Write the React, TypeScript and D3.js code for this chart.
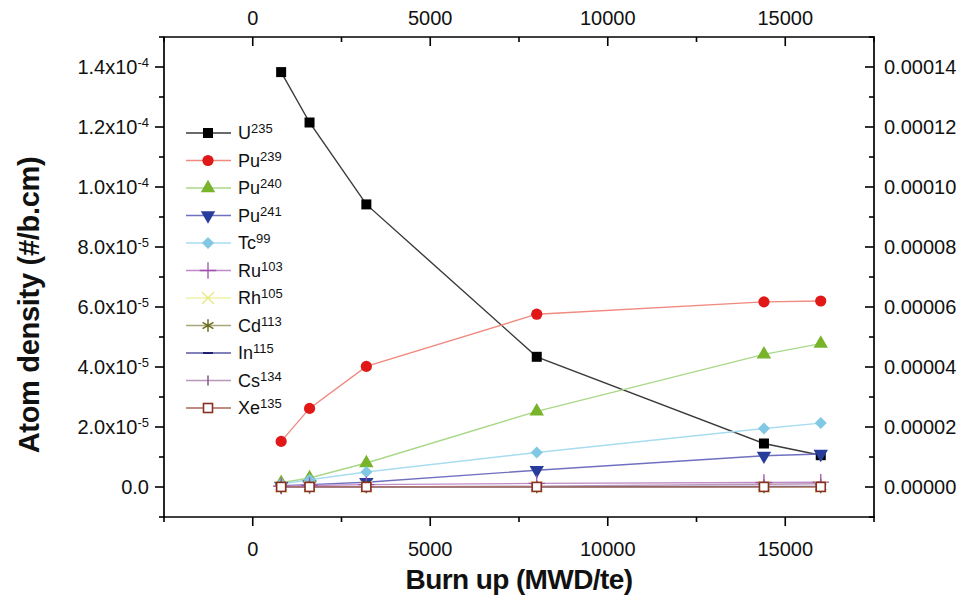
import React from "react";
import * as d3 from "d3";

const burnup = [800, 1600, 3200, 8000, 14400, 16000];
const u235 = [138.3e-6, 121.5e-6, 94.2e-6, 43.4e-6, 14.5e-6, 10.6e-6];
const pu239 = [15.2e-6, 26.2e-6, 40.2e-6, 57.6e-6, 61.7e-6, 62.0e-6];
const pu240 = [1.4e-6, 3.0e-6, 8.0e-6, 25.2e-6, 44.2e-6, 47.8e-6];
const pu241 = [0.4e-6, 0.8e-6, 1.6e-6, 5.6e-6, 10.4e-6, 11.0e-6];
const tc99 = [1.0e-6, 2.4e-6, 5.0e-6, 11.5e-6, 19.5e-6, 21.3e-6];
const ru103 = [0.3e-6, 0.5e-6, 0.8e-6, 1.2e-6, 1.5e-6, 1.6e-6];
const rh105 = [0.05e-6, 0.06e-6, 0.07e-6, 0.08e-6, 0.08e-6, 0.08e-6];
const cd113 = [0.01e-6, 0.01e-6, 0.02e-6, 0.03e-6, 0.04e-6, 0.04e-6];
const in115 = [0.01e-6, 0.02e-6, 0.04e-6, 0.1e-6, 0.18e-6, 0.2e-6];
const cs134 = [0.0, 0.01e-6, 0.05e-6, 0.3e-6, 0.9e-6, 1.1e-6];
const xe135 = [0.03e-6, 0.03e-6, 0.03e-6, 0.03e-6, 0.03e-6, 0.03e-6];

const seriesNames = ["U", "Pu", "Pu", "Pu", "Tc", "Ru", "Rh", "Cd", "In", "Cs", "Xe"];
const seriesMass = ["235", "239", "240", "241", "99", "103", "105", "113", "115", "134", "135"];
const seriesValues = [u235, pu239, pu240, pu241, tc99, ru103, rh105, cd113, in115, cs134, xe135];

const xTicks = [0, 5000, 10000, 15000];
const xMinor = [-2500, 2500, 7500, 12500, 17500];
const yTicks = [0, 2e-5, 4e-5, 6e-5, 8e-5, 1e-4, 1.2e-4, 1.4e-4];
const yMinor = [-1e-5, 1e-5, 3e-5, 5e-5, 7e-5, 9e-5, 1.1e-4, 1.3e-4, 1.5e-4];

type Style = { line: string; marker: string; shape: string };
const styles: Style[] = [
  { line: "#3a3a3a", marker: "#000000", shape: "square" },
  { line: "#f08a80", marker: "#e01818", shape: "circle" },
  { line: "#a8d888", marker: "#78b42a", shape: "triangle" },
  { line: "#7070c0", marker: "#283c9c", shape: "triangleDown" },
  { line: "#a8dcf0", marker: "#80c8e4", shape: "diamond" },
  { line: "#c08cc8", marker: "#a050b0", shape: "plus" },
  { line: "#f0f0a8", marker: "#e8e878", shape: "times" },
  { line: "#a8a878", marker: "#6c6c20", shape: "asterisk" },
  { line: "#5858a0", marker: "#202070", shape: "dash" },
  { line: "#b898b8", marker: "#906088", shape: "vbar" },
  { line: "#a86858", marker: "#8a3020", shape: "openSquare" },
];

const L = 164, R = 874, T = 37, B = 517;
const x = d3.scaleLinear().domain([-2500, 17500]).range([L, R]);
const y = d3.scaleLinear().domain([-1e-5, 1.5e-4]).range([B, T]);

function Marker({ cx, cy, s }: { cx: number; cy: number; s: Style }) {
  const t = `translate(${cx},${cy})`;
  switch (s.shape) {
    case "square":
      return <rect x={cx - 5} y={cy - 5} width={10} height={10} fill={s.marker} />;
    case "circle":
      return <circle cx={cx} cy={cy} r={5.6} fill={s.marker} />;
    case "triangle":
      return <path transform={t} d={d3.symbol(d3.symbolTriangle, 90)()!} fill={s.marker} />;
    case "triangleDown":
      return <path transform={`${t} rotate(180)`} d={d3.symbol(d3.symbolTriangle, 90)()!} fill={s.marker} />;
    case "diamond":
      return <path transform={`${t} rotate(45)`} d={d3.symbol(d3.symbolSquare, 72)()!} fill={s.marker} />;
    case "plus":
      return <path transform={t} d={d3.symbol(d3.symbolPlus, 90)()!} fill="none" stroke={s.marker} strokeWidth={1.3} />;
    case "times":
      return <path transform={t} d={d3.symbol(d3.symbolTimes, 90)()!} fill="none" stroke={s.marker} strokeWidth={1.3} />;
    case "asterisk":
      return <path transform={t} d={d3.symbol(d3.symbolAsterisk, 110)()!} fill="none" stroke={s.marker} strokeWidth={1.5} />;
    case "dash":
      return <line x1={cx - 5} x2={cx + 5} y1={cy} y2={cy} stroke={s.marker} strokeWidth={2} />;
    case "vbar":
      return <line x1={cx} x2={cx} y1={cy - 5} y2={cy + 5} stroke={s.marker} strokeWidth={1.6} />;
    case "openSquare":
      return <rect x={cx - 4.5} y={cy - 4.5} width={9} height={9} fill="#fff" stroke={s.marker} strokeWidth={1.6} />;
  }
  return null;
}

function yLabel(v: number) {
  if (v === 0) return <tspan>0.0</tspan>;
  const exp = Math.floor(Math.log10(v) + 1e-9);
  const mant = v / Math.pow(10, exp);
  return (
    <>
      <tspan>{mant.toFixed(1)}x10</tspan>
      <tspan fontSize={13} dy={-7}>{String(exp)}</tspan>
    </>
  );
}

export default function App() {
  const font = "'Liberation Sans', Arial, sans-serif";
  const lineGen = d3
    .line<number>()
    .x((_, i) => x(burnup[i]))
    .y((d) => y(d));
  const legendY0 = 133;
  const legendDy = 27.5;
  return (
    <svg width={962} height={598} style={{ position: "absolute", left: 0, top: 0, background: "#fff" }} fontFamily={font}>
      <rect width={962} height={598} fill="#fff" />
      {/* frame */}
      <g stroke="#000" strokeWidth={1.7} fill="none">
        <line x1={L} x2={L} y1={T} y2={B + 1} />
        <line x1={R} x2={R} y1={T} y2={B + 1} />
        <line x1={L - 1} x2={R + 1} y1={T} y2={T} />
        <line x1={L - 1} x2={R + 1} y1={B} y2={B} />
      </g>
      {/* ticks */}
      <g stroke="#000" strokeWidth={1.6}>
        {xTicks.map((v) => (
          <line key={"bx" + v} x1={x(v)} x2={x(v)} y1={B} y2={B + 9} />
        ))}
        {xMinor.map((v) => (
          <line key={"bm" + v} x1={x(v)} x2={x(v)} y1={B} y2={B + 5} />
        ))}
        {xTicks.map((v) => (
          <line key={"tx" + v} x1={x(v)} x2={x(v)} y1={T} y2={T + 9} />
        ))}
        {xMinor.map((v) => (
          <line key={"tm" + v} x1={x(v)} x2={x(v)} y1={T} y2={T + 5} />
        ))}
        {yTicks.map((v) => (
          <line key={"ly" + v} x1={L - 9} x2={L} y1={y(v)} y2={y(v)} />
        ))}
        {yMinor.map((v) => (
          <line key={"lm" + v} x1={L - 5} x2={L} y1={y(v)} y2={y(v)} />
        ))}
        {yTicks.map((v) => (
          <line key={"ry" + v} x1={R - 9} x2={R} y1={y(v)} y2={y(v)} />
        ))}
        {yMinor.map((v) => (
          <line key={"rm" + v} x1={R - 5} x2={R} y1={y(v)} y2={y(v)} />
        ))}
      </g>
      <g fontSize={20} fill="#111">
        {xTicks.map((v) => (
          <text key={"bl" + v} x={x(v)} y={556} textAnchor="middle">{String(v)}</text>
        ))}
        {xTicks.map((v) => (
          <text key={"tl" + v} x={x(v)} y={25} textAnchor="middle">{String(v)}</text>
        ))}
        {yTicks.map((v) => (
          <text key={"yl" + v} x={149} y={y(v) + 7} textAnchor="end">{yLabel(v)}</text>
        ))}
        {yTicks.map((v) => (
          <text key={"yr" + v} x={884} y={y(v) + 7} textAnchor="start">{(v).toFixed(5)}</text>
        ))}
      </g>
      <text x={519} y={589} textAnchor="middle" fontSize={28} fontWeight="bold" fill="#111" letterSpacing={-0.6}>
        Burn up (MWD/te)
      </text>
      <text transform={`translate(39,305) rotate(-90)`} textAnchor="middle" fontSize={29} fontWeight="bold" fill="#111" letterSpacing={-0.3}>
        Atom density (#/b.cm)
      </text>
      {/* series */}
      {seriesValues.map((vals, si) => (
        <g key={"s" + si}>
          <path d={lineGen(vals)!} fill="none" stroke={styles[si].line} strokeWidth={1.4} />
        </g>
      ))}
      {seriesValues.map((vals, si) => (
        <g key={"m" + si}>
          {vals.map((v, i) => (
            <Marker key={i} cx={x(burnup[i])} cy={y(v)} s={styles[si]} />
          ))}
        </g>
      ))}
      {/* legend */}
      {seriesNames.map((n, i) => {
        const ly = legendY0 + i * legendDy;
        return (
          <g key={"lg" + i}>
            <line x1={186} x2={231} y1={ly} y2={ly} stroke={styles[i].line} strokeWidth={1.4} />
            <Marker cx={208} cy={ly} s={styles[i]} />
            <text x={238} y={ly + 6} fontSize={18} fill="#111">
              {n}
              <tspan fontSize={13} dy={-6}>{seriesMass[i]}</tspan>
            </text>
          </g>
        );
      })}
    </svg>
  );
}
